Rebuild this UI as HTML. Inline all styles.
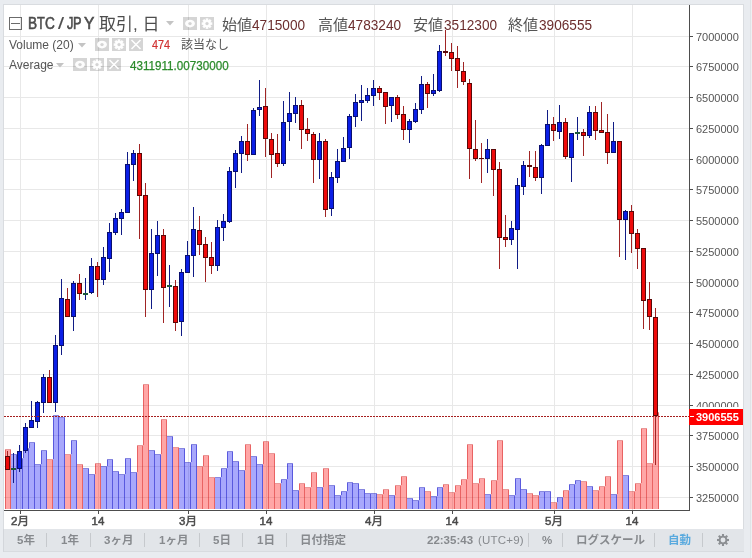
<!DOCTYPE html>
<html><head><meta charset="utf-8">
<style>
*{margin:0;padding:0;box-sizing:border-box}
html,body{width:752px;height:558px;overflow:hidden;background:#e9ecf0}
body{position:relative;font-family:"Liberation Sans","Noto Sans CJK JP",sans-serif}
#panel{position:absolute;left:3px;top:4px;width:741px;height:526px;background:#fff;border:1px solid #d9dce0;border-bottom:none}
#chart{position:absolute;left:0;top:0}
.pl{position:absolute;left:696px;height:14px;line-height:14px;font-size:11px;color:#555;white-space:nowrap}
.dl{position:absolute;top:514px;width:60px;text-align:center;font-size:11.5px;color:#4a4a4a;line-height:14px;-webkit-text-stroke:0.5px #4a4a4a}
#lp{position:absolute;left:690px;top:409px;width:53px;height:16px;line-height:16px;color:#fff;font-size:11px;font-weight:bold;padding-left:6px}
.t{position:absolute;white-space:nowrap}
svg{display:block}
#chart{position:absolute;left:0;top:0}
#toolbar{position:absolute;left:3px;top:529px;width:741px;height:23px;background:#e2e5e9;box-shadow:inset 1px 0 #d3d6db,inset 0 -1px #d8dbdf}
.tb{position:absolute;top:0;height:22px;line-height:22px;font-size:11.5px;font-weight:bold;color:#878a8e;white-space:nowrap}
.sep{position:absolute;top:4px;width:1px;height:14px;background:#c6c9cd}
.ic{position:absolute;width:14px;height:13px}
.ti{top:14.2px;font-size:16px;line-height:20px;color:#4d4d4d;-webkit-text-stroke:0.6px #4d4d4d;transform:scaleX(0.85);transform-origin:0 0}
.lab{top:15.6px;font-size:15px;line-height:18px;color:#555}
.val{top:15.6px;font-size:15.5px;line-height:18px;color:#6c2e2e;transform:scaleX(0.88);transform-origin:0 0}
</style></head><body>
<div id="panel"></div>
<div style="position:absolute;left:750px;top:0;width:1px;height:558px;background:#e0e3e6"></div><div style="position:absolute;left:751px;top:0;width:1px;height:558px;background:#eef0f2"></div>
<svg id="chart" width="752" height="558" viewBox="0 0 752 558" shape-rendering="crispEdges">
<rect x="4" y="36" width="685" height="1" fill="#e8e8e8"/>
<rect x="4" y="66" width="685" height="1" fill="#e8e8e8"/>
<rect x="4" y="97" width="685" height="1" fill="#e8e8e8"/>
<rect x="4" y="128" width="685" height="1" fill="#e8e8e8"/>
<rect x="4" y="159" width="685" height="1" fill="#e8e8e8"/>
<rect x="4" y="189" width="685" height="1" fill="#e8e8e8"/>
<rect x="4" y="220" width="685" height="1" fill="#e8e8e8"/>
<rect x="4" y="251" width="685" height="1" fill="#e8e8e8"/>
<rect x="4" y="282" width="685" height="1" fill="#e8e8e8"/>
<rect x="4" y="312" width="685" height="1" fill="#e8e8e8"/>
<rect x="4" y="343" width="685" height="1" fill="#e8e8e8"/>
<rect x="4" y="374" width="685" height="1" fill="#e8e8e8"/>
<rect x="4" y="405" width="685" height="1" fill="#e8e8e8"/>
<rect x="4" y="435" width="685" height="1" fill="#e8e8e8"/>
<rect x="4" y="466" width="685" height="1" fill="#e8e8e8"/>
<rect x="4" y="497" width="685" height="1" fill="#e8e8e8"/>
<rect x="20" y="5" width="1" height="505" fill="#e8e8e8"/>
<rect x="98" y="5" width="1" height="505" fill="#e8e8e8"/>
<rect x="188" y="5" width="1" height="505" fill="#e8e8e8"/>
<rect x="266" y="5" width="1" height="505" fill="#e8e8e8"/>
<rect x="374" y="5" width="1" height="505" fill="#e8e8e8"/>
<rect x="452" y="5" width="1" height="505" fill="#e8e8e8"/>
<rect x="554" y="5" width="1" height="505" fill="#e8e8e8"/>
<rect x="632" y="5" width="1" height="505" fill="#e8e8e8"/>
<rect x="5" y="450" width="6" height="59" fill="rgba(255,0,0,0.35)"/>
<rect x="5" y="449" width="6" height="1" fill="rgba(200,0,0,0.4)"/>
<rect x="10" y="450" width="1" height="59" fill="rgba(200,0,0,0.4)"/>
<rect x="5" y="450" width="1" height="59" fill="rgba(200,0,0,0.4)"/>
<rect x="11" y="455" width="6" height="54" fill="rgba(0,0,245,0.34)"/>
<rect x="11" y="454" width="6" height="1" fill="rgba(0,0,190,0.47)"/>
<rect x="16" y="455" width="1" height="54" fill="rgba(0,0,190,0.47)"/>
<rect x="17" y="459" width="6" height="50" fill="rgba(0,0,245,0.34)"/>
<rect x="17" y="458" width="6" height="1" fill="rgba(0,0,190,0.47)"/>
<rect x="22" y="459" width="1" height="50" fill="rgba(0,0,190,0.47)"/>
<rect x="23" y="449" width="6" height="60" fill="rgba(0,0,245,0.34)"/>
<rect x="23" y="448" width="6" height="1" fill="rgba(0,0,190,0.47)"/>
<rect x="28" y="449" width="1" height="60" fill="rgba(0,0,190,0.47)"/>
<rect x="23" y="449" width="1" height="9" fill="rgba(0,0,190,0.47)"/>
<rect x="29" y="443" width="6" height="66" fill="rgba(0,0,245,0.34)"/>
<rect x="29" y="442" width="6" height="1" fill="rgba(0,0,190,0.47)"/>
<rect x="34" y="443" width="1" height="66" fill="rgba(0,0,190,0.47)"/>
<rect x="29" y="443" width="1" height="5" fill="rgba(0,0,190,0.47)"/>
<rect x="35" y="465" width="6" height="44" fill="rgba(0,0,245,0.34)"/>
<rect x="35" y="464" width="6" height="1" fill="rgba(0,0,190,0.47)"/>
<rect x="40" y="465" width="1" height="44" fill="rgba(0,0,190,0.47)"/>
<rect x="41" y="451" width="6" height="58" fill="rgba(0,0,245,0.34)"/>
<rect x="41" y="450" width="6" height="1" fill="rgba(0,0,190,0.47)"/>
<rect x="46" y="451" width="1" height="58" fill="rgba(0,0,190,0.47)"/>
<rect x="41" y="451" width="1" height="13" fill="rgba(0,0,190,0.47)"/>
<rect x="47" y="460" width="6" height="49" fill="rgba(255,0,0,0.35)"/>
<rect x="47" y="459" width="6" height="1" fill="rgba(200,0,0,0.4)"/>
<rect x="52" y="460" width="1" height="49" fill="rgba(200,0,0,0.4)"/>
<rect x="53" y="416" width="6" height="93" fill="rgba(0,0,245,0.34)"/>
<rect x="53" y="415" width="6" height="1" fill="rgba(0,0,190,0.47)"/>
<rect x="58" y="416" width="1" height="93" fill="rgba(0,0,190,0.47)"/>
<rect x="53" y="416" width="1" height="43" fill="rgba(0,0,190,0.47)"/>
<rect x="59" y="418" width="6" height="91" fill="rgba(0,0,245,0.34)"/>
<rect x="59" y="417" width="6" height="1" fill="rgba(0,0,190,0.47)"/>
<rect x="64" y="418" width="1" height="91" fill="rgba(0,0,190,0.47)"/>
<rect x="65" y="455" width="6" height="54" fill="rgba(255,0,0,0.35)"/>
<rect x="65" y="454" width="6" height="1" fill="rgba(200,0,0,0.4)"/>
<rect x="70" y="455" width="1" height="54" fill="rgba(200,0,0,0.4)"/>
<rect x="71" y="441" width="6" height="68" fill="rgba(0,0,245,0.34)"/>
<rect x="71" y="440" width="6" height="1" fill="rgba(0,0,190,0.47)"/>
<rect x="76" y="441" width="1" height="68" fill="rgba(0,0,190,0.47)"/>
<rect x="71" y="441" width="1" height="13" fill="rgba(0,0,190,0.47)"/>
<rect x="77" y="465" width="6" height="44" fill="rgba(255,0,0,0.35)"/>
<rect x="77" y="464" width="6" height="1" fill="rgba(200,0,0,0.4)"/>
<rect x="82" y="465" width="1" height="44" fill="rgba(200,0,0,0.4)"/>
<rect x="83" y="469" width="6" height="40" fill="rgba(0,0,245,0.34)"/>
<rect x="83" y="468" width="6" height="1" fill="rgba(0,0,190,0.47)"/>
<rect x="88" y="469" width="1" height="40" fill="rgba(0,0,190,0.47)"/>
<rect x="89" y="475" width="6" height="34" fill="rgba(0,0,245,0.34)"/>
<rect x="89" y="474" width="6" height="1" fill="rgba(0,0,190,0.47)"/>
<rect x="94" y="475" width="1" height="34" fill="rgba(0,0,190,0.47)"/>
<rect x="95" y="464" width="6" height="45" fill="rgba(255,0,0,0.35)"/>
<rect x="95" y="463" width="6" height="1" fill="rgba(200,0,0,0.4)"/>
<rect x="100" y="464" width="1" height="45" fill="rgba(200,0,0,0.4)"/>
<rect x="95" y="464" width="1" height="10" fill="rgba(200,0,0,0.4)"/>
<rect x="101" y="467" width="6" height="42" fill="rgba(0,0,245,0.34)"/>
<rect x="101" y="466" width="6" height="1" fill="rgba(0,0,190,0.47)"/>
<rect x="106" y="467" width="1" height="42" fill="rgba(0,0,190,0.47)"/>
<rect x="107" y="460" width="6" height="49" fill="rgba(0,0,245,0.34)"/>
<rect x="107" y="459" width="6" height="1" fill="rgba(0,0,190,0.47)"/>
<rect x="112" y="460" width="1" height="49" fill="rgba(0,0,190,0.47)"/>
<rect x="107" y="460" width="1" height="6" fill="rgba(0,0,190,0.47)"/>
<rect x="113" y="472" width="6" height="37" fill="rgba(0,0,245,0.34)"/>
<rect x="113" y="471" width="6" height="1" fill="rgba(0,0,190,0.47)"/>
<rect x="118" y="472" width="1" height="37" fill="rgba(0,0,190,0.47)"/>
<rect x="119" y="475" width="6" height="34" fill="rgba(0,0,245,0.34)"/>
<rect x="119" y="474" width="6" height="1" fill="rgba(0,0,190,0.47)"/>
<rect x="124" y="475" width="1" height="34" fill="rgba(0,0,190,0.47)"/>
<rect x="125" y="459" width="6" height="50" fill="rgba(0,0,245,0.34)"/>
<rect x="125" y="458" width="6" height="1" fill="rgba(0,0,190,0.47)"/>
<rect x="130" y="459" width="1" height="50" fill="rgba(0,0,190,0.47)"/>
<rect x="125" y="459" width="1" height="15" fill="rgba(0,0,190,0.47)"/>
<rect x="131" y="473" width="6" height="36" fill="rgba(0,0,245,0.34)"/>
<rect x="131" y="472" width="6" height="1" fill="rgba(0,0,190,0.47)"/>
<rect x="136" y="473" width="1" height="36" fill="rgba(0,0,190,0.47)"/>
<rect x="137" y="446" width="6" height="63" fill="rgba(255,0,0,0.35)"/>
<rect x="137" y="445" width="6" height="1" fill="rgba(200,0,0,0.4)"/>
<rect x="142" y="446" width="1" height="63" fill="rgba(200,0,0,0.4)"/>
<rect x="137" y="446" width="1" height="26" fill="rgba(200,0,0,0.4)"/>
<rect x="143" y="385" width="6" height="124" fill="rgba(255,0,0,0.35)"/>
<rect x="143" y="384" width="6" height="1" fill="rgba(200,0,0,0.4)"/>
<rect x="148" y="385" width="1" height="124" fill="rgba(200,0,0,0.4)"/>
<rect x="143" y="385" width="1" height="60" fill="rgba(200,0,0,0.4)"/>
<rect x="149" y="451" width="6" height="58" fill="rgba(0,0,245,0.34)"/>
<rect x="149" y="450" width="6" height="1" fill="rgba(0,0,190,0.47)"/>
<rect x="154" y="451" width="1" height="58" fill="rgba(0,0,190,0.47)"/>
<rect x="155" y="455" width="6" height="54" fill="rgba(0,0,245,0.34)"/>
<rect x="155" y="454" width="6" height="1" fill="rgba(0,0,190,0.47)"/>
<rect x="160" y="455" width="1" height="54" fill="rgba(0,0,190,0.47)"/>
<rect x="161" y="420" width="6" height="89" fill="rgba(255,0,0,0.35)"/>
<rect x="161" y="419" width="6" height="1" fill="rgba(200,0,0,0.4)"/>
<rect x="166" y="420" width="1" height="89" fill="rgba(200,0,0,0.4)"/>
<rect x="161" y="420" width="1" height="34" fill="rgba(200,0,0,0.4)"/>
<rect x="167" y="437" width="6" height="72" fill="rgba(0,0,245,0.34)"/>
<rect x="167" y="436" width="6" height="1" fill="rgba(0,0,190,0.47)"/>
<rect x="172" y="437" width="1" height="72" fill="rgba(0,0,190,0.47)"/>
<rect x="173" y="448" width="6" height="61" fill="rgba(255,0,0,0.35)"/>
<rect x="173" y="447" width="6" height="1" fill="rgba(200,0,0,0.4)"/>
<rect x="178" y="448" width="1" height="61" fill="rgba(200,0,0,0.4)"/>
<rect x="179" y="449" width="6" height="60" fill="rgba(0,0,245,0.34)"/>
<rect x="179" y="448" width="6" height="1" fill="rgba(0,0,190,0.47)"/>
<rect x="184" y="449" width="1" height="60" fill="rgba(0,0,190,0.47)"/>
<rect x="185" y="463" width="6" height="46" fill="rgba(0,0,245,0.34)"/>
<rect x="185" y="462" width="6" height="1" fill="rgba(0,0,190,0.47)"/>
<rect x="190" y="463" width="1" height="46" fill="rgba(0,0,190,0.47)"/>
<rect x="191" y="445" width="6" height="64" fill="rgba(0,0,245,0.34)"/>
<rect x="191" y="444" width="6" height="1" fill="rgba(0,0,190,0.47)"/>
<rect x="196" y="445" width="1" height="64" fill="rgba(0,0,190,0.47)"/>
<rect x="191" y="445" width="1" height="17" fill="rgba(0,0,190,0.47)"/>
<rect x="197" y="467" width="6" height="42" fill="rgba(255,0,0,0.35)"/>
<rect x="197" y="466" width="6" height="1" fill="rgba(200,0,0,0.4)"/>
<rect x="202" y="467" width="1" height="42" fill="rgba(200,0,0,0.4)"/>
<rect x="203" y="456" width="6" height="53" fill="rgba(255,0,0,0.35)"/>
<rect x="203" y="455" width="6" height="1" fill="rgba(200,0,0,0.4)"/>
<rect x="208" y="456" width="1" height="53" fill="rgba(200,0,0,0.4)"/>
<rect x="203" y="456" width="1" height="10" fill="rgba(200,0,0,0.4)"/>
<rect x="209" y="478" width="6" height="31" fill="rgba(255,0,0,0.35)"/>
<rect x="209" y="477" width="6" height="1" fill="rgba(200,0,0,0.4)"/>
<rect x="214" y="478" width="1" height="31" fill="rgba(200,0,0,0.4)"/>
<rect x="215" y="478" width="6" height="31" fill="rgba(0,0,245,0.34)"/>
<rect x="215" y="477" width="6" height="1" fill="rgba(0,0,190,0.47)"/>
<rect x="220" y="478" width="1" height="31" fill="rgba(0,0,190,0.47)"/>
<rect x="221" y="469" width="6" height="40" fill="rgba(0,0,245,0.34)"/>
<rect x="221" y="468" width="6" height="1" fill="rgba(0,0,190,0.47)"/>
<rect x="226" y="469" width="1" height="40" fill="rgba(0,0,190,0.47)"/>
<rect x="221" y="469" width="1" height="8" fill="rgba(0,0,190,0.47)"/>
<rect x="227" y="452" width="6" height="57" fill="rgba(0,0,245,0.34)"/>
<rect x="227" y="451" width="6" height="1" fill="rgba(0,0,190,0.47)"/>
<rect x="232" y="452" width="1" height="57" fill="rgba(0,0,190,0.47)"/>
<rect x="227" y="452" width="1" height="16" fill="rgba(0,0,190,0.47)"/>
<rect x="233" y="462" width="6" height="47" fill="rgba(0,0,245,0.34)"/>
<rect x="233" y="461" width="6" height="1" fill="rgba(0,0,190,0.47)"/>
<rect x="238" y="462" width="1" height="47" fill="rgba(0,0,190,0.47)"/>
<rect x="239" y="471" width="6" height="38" fill="rgba(0,0,245,0.34)"/>
<rect x="239" y="470" width="6" height="1" fill="rgba(0,0,190,0.47)"/>
<rect x="244" y="471" width="1" height="38" fill="rgba(0,0,190,0.47)"/>
<rect x="245" y="445" width="6" height="64" fill="rgba(255,0,0,0.35)"/>
<rect x="245" y="444" width="6" height="1" fill="rgba(200,0,0,0.4)"/>
<rect x="250" y="445" width="1" height="64" fill="rgba(200,0,0,0.4)"/>
<rect x="245" y="445" width="1" height="25" fill="rgba(200,0,0,0.4)"/>
<rect x="251" y="457" width="6" height="52" fill="rgba(0,0,245,0.34)"/>
<rect x="251" y="456" width="6" height="1" fill="rgba(0,0,190,0.47)"/>
<rect x="256" y="457" width="1" height="52" fill="rgba(0,0,190,0.47)"/>
<rect x="257" y="465" width="6" height="44" fill="rgba(0,0,245,0.34)"/>
<rect x="257" y="464" width="6" height="1" fill="rgba(0,0,190,0.47)"/>
<rect x="262" y="465" width="1" height="44" fill="rgba(0,0,190,0.47)"/>
<rect x="263" y="442" width="6" height="67" fill="rgba(255,0,0,0.35)"/>
<rect x="263" y="441" width="6" height="1" fill="rgba(200,0,0,0.4)"/>
<rect x="268" y="442" width="1" height="67" fill="rgba(200,0,0,0.4)"/>
<rect x="263" y="442" width="1" height="22" fill="rgba(200,0,0,0.4)"/>
<rect x="269" y="454" width="6" height="55" fill="rgba(255,0,0,0.35)"/>
<rect x="269" y="453" width="6" height="1" fill="rgba(200,0,0,0.4)"/>
<rect x="274" y="454" width="1" height="55" fill="rgba(200,0,0,0.4)"/>
<rect x="275" y="484" width="6" height="25" fill="rgba(255,0,0,0.35)"/>
<rect x="275" y="483" width="6" height="1" fill="rgba(200,0,0,0.4)"/>
<rect x="280" y="484" width="1" height="25" fill="rgba(200,0,0,0.4)"/>
<rect x="281" y="480" width="6" height="29" fill="rgba(0,0,245,0.34)"/>
<rect x="281" y="479" width="6" height="1" fill="rgba(0,0,190,0.47)"/>
<rect x="286" y="480" width="1" height="29" fill="rgba(0,0,190,0.47)"/>
<rect x="281" y="480" width="1" height="3" fill="rgba(0,0,190,0.47)"/>
<rect x="287" y="464" width="6" height="45" fill="rgba(0,0,245,0.34)"/>
<rect x="287" y="463" width="6" height="1" fill="rgba(0,0,190,0.47)"/>
<rect x="292" y="464" width="1" height="45" fill="rgba(0,0,190,0.47)"/>
<rect x="287" y="464" width="1" height="15" fill="rgba(0,0,190,0.47)"/>
<rect x="293" y="491" width="6" height="18" fill="rgba(0,0,245,0.34)"/>
<rect x="293" y="490" width="6" height="1" fill="rgba(0,0,190,0.47)"/>
<rect x="298" y="491" width="1" height="18" fill="rgba(0,0,190,0.47)"/>
<rect x="299" y="484" width="6" height="25" fill="rgba(255,0,0,0.35)"/>
<rect x="299" y="483" width="6" height="1" fill="rgba(200,0,0,0.4)"/>
<rect x="304" y="484" width="1" height="25" fill="rgba(200,0,0,0.4)"/>
<rect x="299" y="484" width="1" height="6" fill="rgba(200,0,0,0.4)"/>
<rect x="305" y="488" width="6" height="21" fill="rgba(255,0,0,0.35)"/>
<rect x="305" y="487" width="6" height="1" fill="rgba(200,0,0,0.4)"/>
<rect x="310" y="488" width="1" height="21" fill="rgba(200,0,0,0.4)"/>
<rect x="311" y="473" width="6" height="36" fill="rgba(255,0,0,0.35)"/>
<rect x="311" y="472" width="6" height="1" fill="rgba(200,0,0,0.4)"/>
<rect x="316" y="473" width="1" height="36" fill="rgba(200,0,0,0.4)"/>
<rect x="311" y="473" width="1" height="14" fill="rgba(200,0,0,0.4)"/>
<rect x="317" y="488" width="6" height="21" fill="rgba(0,0,245,0.34)"/>
<rect x="317" y="487" width="6" height="1" fill="rgba(0,0,190,0.47)"/>
<rect x="322" y="488" width="1" height="21" fill="rgba(0,0,190,0.47)"/>
<rect x="323" y="469" width="6" height="40" fill="rgba(255,0,0,0.35)"/>
<rect x="323" y="468" width="6" height="1" fill="rgba(200,0,0,0.4)"/>
<rect x="328" y="469" width="1" height="40" fill="rgba(200,0,0,0.4)"/>
<rect x="323" y="469" width="1" height="18" fill="rgba(200,0,0,0.4)"/>
<rect x="329" y="486" width="6" height="23" fill="rgba(0,0,245,0.34)"/>
<rect x="329" y="485" width="6" height="1" fill="rgba(0,0,190,0.47)"/>
<rect x="334" y="486" width="1" height="23" fill="rgba(0,0,190,0.47)"/>
<rect x="335" y="496" width="6" height="13" fill="rgba(0,0,245,0.34)"/>
<rect x="335" y="495" width="6" height="1" fill="rgba(0,0,190,0.47)"/>
<rect x="340" y="496" width="1" height="13" fill="rgba(0,0,190,0.47)"/>
<rect x="341" y="492" width="6" height="17" fill="rgba(0,0,245,0.34)"/>
<rect x="341" y="491" width="6" height="1" fill="rgba(0,0,190,0.47)"/>
<rect x="346" y="492" width="1" height="17" fill="rgba(0,0,190,0.47)"/>
<rect x="341" y="492" width="1" height="3" fill="rgba(0,0,190,0.47)"/>
<rect x="347" y="483" width="6" height="26" fill="rgba(0,0,245,0.34)"/>
<rect x="347" y="482" width="6" height="1" fill="rgba(0,0,190,0.47)"/>
<rect x="352" y="483" width="1" height="26" fill="rgba(0,0,190,0.47)"/>
<rect x="347" y="483" width="1" height="8" fill="rgba(0,0,190,0.47)"/>
<rect x="353" y="484" width="6" height="25" fill="rgba(0,0,245,0.34)"/>
<rect x="353" y="483" width="6" height="1" fill="rgba(0,0,190,0.47)"/>
<rect x="358" y="484" width="1" height="25" fill="rgba(0,0,190,0.47)"/>
<rect x="359" y="490" width="6" height="19" fill="rgba(0,0,245,0.34)"/>
<rect x="359" y="489" width="6" height="1" fill="rgba(0,0,190,0.47)"/>
<rect x="364" y="490" width="1" height="19" fill="rgba(0,0,190,0.47)"/>
<rect x="365" y="494" width="6" height="15" fill="rgba(0,0,245,0.34)"/>
<rect x="365" y="493" width="6" height="1" fill="rgba(0,0,190,0.47)"/>
<rect x="370" y="494" width="1" height="15" fill="rgba(0,0,190,0.47)"/>
<rect x="371" y="494" width="6" height="15" fill="rgba(0,0,245,0.34)"/>
<rect x="371" y="493" width="6" height="1" fill="rgba(0,0,190,0.47)"/>
<rect x="376" y="494" width="1" height="15" fill="rgba(0,0,190,0.47)"/>
<rect x="377" y="495" width="6" height="14" fill="rgba(255,0,0,0.35)"/>
<rect x="377" y="494" width="6" height="1" fill="rgba(200,0,0,0.4)"/>
<rect x="382" y="495" width="1" height="14" fill="rgba(200,0,0,0.4)"/>
<rect x="383" y="490" width="6" height="19" fill="rgba(255,0,0,0.35)"/>
<rect x="383" y="489" width="6" height="1" fill="rgba(200,0,0,0.4)"/>
<rect x="388" y="490" width="1" height="19" fill="rgba(200,0,0,0.4)"/>
<rect x="383" y="490" width="1" height="4" fill="rgba(200,0,0,0.4)"/>
<rect x="389" y="496" width="6" height="13" fill="rgba(0,0,245,0.34)"/>
<rect x="389" y="495" width="6" height="1" fill="rgba(0,0,190,0.47)"/>
<rect x="394" y="496" width="1" height="13" fill="rgba(0,0,190,0.47)"/>
<rect x="395" y="486" width="6" height="23" fill="rgba(255,0,0,0.35)"/>
<rect x="395" y="485" width="6" height="1" fill="rgba(200,0,0,0.4)"/>
<rect x="400" y="486" width="1" height="23" fill="rgba(200,0,0,0.4)"/>
<rect x="395" y="486" width="1" height="9" fill="rgba(200,0,0,0.4)"/>
<rect x="401" y="477" width="6" height="32" fill="rgba(255,0,0,0.35)"/>
<rect x="401" y="476" width="6" height="1" fill="rgba(200,0,0,0.4)"/>
<rect x="406" y="477" width="1" height="32" fill="rgba(200,0,0,0.4)"/>
<rect x="401" y="477" width="1" height="8" fill="rgba(200,0,0,0.4)"/>
<rect x="407" y="499" width="6" height="10" fill="rgba(0,0,245,0.34)"/>
<rect x="407" y="498" width="6" height="1" fill="rgba(0,0,190,0.47)"/>
<rect x="412" y="499" width="1" height="10" fill="rgba(0,0,190,0.47)"/>
<rect x="413" y="501" width="6" height="8" fill="rgba(0,0,245,0.34)"/>
<rect x="413" y="500" width="6" height="1" fill="rgba(0,0,190,0.47)"/>
<rect x="418" y="501" width="1" height="8" fill="rgba(0,0,190,0.47)"/>
<rect x="419" y="488" width="6" height="21" fill="rgba(0,0,245,0.34)"/>
<rect x="419" y="487" width="6" height="1" fill="rgba(0,0,190,0.47)"/>
<rect x="424" y="488" width="1" height="21" fill="rgba(0,0,190,0.47)"/>
<rect x="419" y="488" width="1" height="12" fill="rgba(0,0,190,0.47)"/>
<rect x="425" y="492" width="6" height="17" fill="rgba(255,0,0,0.35)"/>
<rect x="425" y="491" width="6" height="1" fill="rgba(200,0,0,0.4)"/>
<rect x="430" y="492" width="1" height="17" fill="rgba(200,0,0,0.4)"/>
<rect x="431" y="497" width="6" height="12" fill="rgba(0,0,245,0.34)"/>
<rect x="431" y="496" width="6" height="1" fill="rgba(0,0,190,0.47)"/>
<rect x="436" y="497" width="1" height="12" fill="rgba(0,0,190,0.47)"/>
<rect x="437" y="488" width="6" height="21" fill="rgba(0,0,245,0.34)"/>
<rect x="437" y="487" width="6" height="1" fill="rgba(0,0,190,0.47)"/>
<rect x="442" y="488" width="1" height="21" fill="rgba(0,0,190,0.47)"/>
<rect x="437" y="488" width="1" height="8" fill="rgba(0,0,190,0.47)"/>
<rect x="443" y="485" width="6" height="24" fill="rgba(255,0,0,0.35)"/>
<rect x="443" y="484" width="6" height="1" fill="rgba(200,0,0,0.4)"/>
<rect x="448" y="485" width="1" height="24" fill="rgba(200,0,0,0.4)"/>
<rect x="443" y="485" width="1" height="2" fill="rgba(200,0,0,0.4)"/>
<rect x="449" y="493" width="6" height="16" fill="rgba(255,0,0,0.35)"/>
<rect x="449" y="492" width="6" height="1" fill="rgba(200,0,0,0.4)"/>
<rect x="454" y="493" width="1" height="16" fill="rgba(200,0,0,0.4)"/>
<rect x="455" y="486" width="6" height="23" fill="rgba(255,0,0,0.35)"/>
<rect x="455" y="485" width="6" height="1" fill="rgba(200,0,0,0.4)"/>
<rect x="460" y="486" width="1" height="23" fill="rgba(200,0,0,0.4)"/>
<rect x="455" y="486" width="1" height="6" fill="rgba(200,0,0,0.4)"/>
<rect x="461" y="480" width="6" height="29" fill="rgba(255,0,0,0.35)"/>
<rect x="461" y="479" width="6" height="1" fill="rgba(200,0,0,0.4)"/>
<rect x="466" y="480" width="1" height="29" fill="rgba(200,0,0,0.4)"/>
<rect x="461" y="480" width="1" height="5" fill="rgba(200,0,0,0.4)"/>
<rect x="467" y="445" width="6" height="64" fill="rgba(255,0,0,0.35)"/>
<rect x="467" y="444" width="6" height="1" fill="rgba(200,0,0,0.4)"/>
<rect x="472" y="445" width="1" height="64" fill="rgba(200,0,0,0.4)"/>
<rect x="467" y="445" width="1" height="34" fill="rgba(200,0,0,0.4)"/>
<rect x="473" y="484" width="6" height="25" fill="rgba(255,0,0,0.35)"/>
<rect x="473" y="483" width="6" height="1" fill="rgba(200,0,0,0.4)"/>
<rect x="478" y="484" width="1" height="25" fill="rgba(200,0,0,0.4)"/>
<rect x="479" y="479" width="6" height="30" fill="rgba(255,0,0,0.35)"/>
<rect x="479" y="478" width="6" height="1" fill="rgba(200,0,0,0.4)"/>
<rect x="484" y="479" width="1" height="30" fill="rgba(200,0,0,0.4)"/>
<rect x="479" y="479" width="1" height="4" fill="rgba(200,0,0,0.4)"/>
<rect x="485" y="495" width="6" height="14" fill="rgba(0,0,245,0.34)"/>
<rect x="485" y="494" width="6" height="1" fill="rgba(0,0,190,0.47)"/>
<rect x="490" y="495" width="1" height="14" fill="rgba(0,0,190,0.47)"/>
<rect x="491" y="481" width="6" height="28" fill="rgba(255,0,0,0.35)"/>
<rect x="491" y="480" width="6" height="1" fill="rgba(200,0,0,0.4)"/>
<rect x="496" y="481" width="1" height="28" fill="rgba(200,0,0,0.4)"/>
<rect x="491" y="481" width="1" height="13" fill="rgba(200,0,0,0.4)"/>
<rect x="497" y="441" width="6" height="68" fill="rgba(255,0,0,0.35)"/>
<rect x="497" y="440" width="6" height="1" fill="rgba(200,0,0,0.4)"/>
<rect x="502" y="441" width="1" height="68" fill="rgba(200,0,0,0.4)"/>
<rect x="497" y="441" width="1" height="39" fill="rgba(200,0,0,0.4)"/>
<rect x="503" y="490" width="6" height="19" fill="rgba(255,0,0,0.35)"/>
<rect x="503" y="489" width="6" height="1" fill="rgba(200,0,0,0.4)"/>
<rect x="508" y="490" width="1" height="19" fill="rgba(200,0,0,0.4)"/>
<rect x="509" y="496" width="6" height="13" fill="rgba(0,0,245,0.34)"/>
<rect x="509" y="495" width="6" height="1" fill="rgba(0,0,190,0.47)"/>
<rect x="514" y="496" width="1" height="13" fill="rgba(0,0,190,0.47)"/>
<rect x="515" y="479" width="6" height="30" fill="rgba(0,0,245,0.34)"/>
<rect x="515" y="478" width="6" height="1" fill="rgba(0,0,190,0.47)"/>
<rect x="520" y="479" width="1" height="30" fill="rgba(0,0,190,0.47)"/>
<rect x="515" y="479" width="1" height="16" fill="rgba(0,0,190,0.47)"/>
<rect x="521" y="490" width="6" height="19" fill="rgba(0,0,245,0.34)"/>
<rect x="521" y="489" width="6" height="1" fill="rgba(0,0,190,0.47)"/>
<rect x="526" y="490" width="1" height="19" fill="rgba(0,0,190,0.47)"/>
<rect x="527" y="494" width="6" height="15" fill="rgba(255,0,0,0.35)"/>
<rect x="527" y="493" width="6" height="1" fill="rgba(200,0,0,0.4)"/>
<rect x="532" y="494" width="1" height="15" fill="rgba(200,0,0,0.4)"/>
<rect x="533" y="496" width="6" height="13" fill="rgba(255,0,0,0.35)"/>
<rect x="533" y="495" width="6" height="1" fill="rgba(200,0,0,0.4)"/>
<rect x="538" y="496" width="1" height="13" fill="rgba(200,0,0,0.4)"/>
<rect x="539" y="492" width="6" height="17" fill="rgba(0,0,245,0.34)"/>
<rect x="539" y="491" width="6" height="1" fill="rgba(0,0,190,0.47)"/>
<rect x="544" y="492" width="1" height="17" fill="rgba(0,0,190,0.47)"/>
<rect x="539" y="492" width="1" height="3" fill="rgba(0,0,190,0.47)"/>
<rect x="545" y="492" width="6" height="17" fill="rgba(0,0,245,0.34)"/>
<rect x="545" y="491" width="6" height="1" fill="rgba(0,0,190,0.47)"/>
<rect x="550" y="492" width="1" height="17" fill="rgba(0,0,190,0.47)"/>
<rect x="551" y="503" width="6" height="6" fill="rgba(255,0,0,0.35)"/>
<rect x="551" y="502" width="6" height="1" fill="rgba(200,0,0,0.4)"/>
<rect x="556" y="503" width="1" height="6" fill="rgba(200,0,0,0.4)"/>
<rect x="557" y="498" width="6" height="11" fill="rgba(0,0,245,0.34)"/>
<rect x="557" y="497" width="6" height="1" fill="rgba(0,0,190,0.47)"/>
<rect x="562" y="498" width="1" height="11" fill="rgba(0,0,190,0.47)"/>
<rect x="557" y="498" width="1" height="4" fill="rgba(0,0,190,0.47)"/>
<rect x="563" y="491" width="6" height="18" fill="rgba(255,0,0,0.35)"/>
<rect x="563" y="490" width="6" height="1" fill="rgba(200,0,0,0.4)"/>
<rect x="568" y="491" width="1" height="18" fill="rgba(200,0,0,0.4)"/>
<rect x="563" y="491" width="1" height="6" fill="rgba(200,0,0,0.4)"/>
<rect x="569" y="485" width="6" height="24" fill="rgba(0,0,245,0.34)"/>
<rect x="569" y="484" width="6" height="1" fill="rgba(0,0,190,0.47)"/>
<rect x="574" y="485" width="1" height="24" fill="rgba(0,0,190,0.47)"/>
<rect x="569" y="485" width="1" height="5" fill="rgba(0,0,190,0.47)"/>
<rect x="575" y="481" width="6" height="28" fill="rgba(0,0,245,0.34)"/>
<rect x="575" y="480" width="6" height="1" fill="rgba(0,0,190,0.47)"/>
<rect x="580" y="481" width="1" height="28" fill="rgba(0,0,190,0.47)"/>
<rect x="575" y="481" width="1" height="3" fill="rgba(0,0,190,0.47)"/>
<rect x="581" y="482" width="6" height="27" fill="rgba(255,0,0,0.35)"/>
<rect x="581" y="481" width="6" height="1" fill="rgba(200,0,0,0.4)"/>
<rect x="586" y="482" width="1" height="27" fill="rgba(200,0,0,0.4)"/>
<rect x="587" y="487" width="6" height="22" fill="rgba(0,0,245,0.34)"/>
<rect x="587" y="486" width="6" height="1" fill="rgba(0,0,190,0.47)"/>
<rect x="592" y="487" width="1" height="22" fill="rgba(0,0,190,0.47)"/>
<rect x="593" y="491" width="6" height="18" fill="rgba(255,0,0,0.35)"/>
<rect x="593" y="490" width="6" height="1" fill="rgba(200,0,0,0.4)"/>
<rect x="598" y="491" width="1" height="18" fill="rgba(200,0,0,0.4)"/>
<rect x="599" y="487" width="6" height="22" fill="rgba(255,0,0,0.35)"/>
<rect x="599" y="486" width="6" height="1" fill="rgba(200,0,0,0.4)"/>
<rect x="604" y="487" width="1" height="22" fill="rgba(200,0,0,0.4)"/>
<rect x="599" y="487" width="1" height="3" fill="rgba(200,0,0,0.4)"/>
<rect x="605" y="477" width="6" height="32" fill="rgba(255,0,0,0.35)"/>
<rect x="605" y="476" width="6" height="1" fill="rgba(200,0,0,0.4)"/>
<rect x="610" y="477" width="1" height="32" fill="rgba(200,0,0,0.4)"/>
<rect x="605" y="477" width="1" height="9" fill="rgba(200,0,0,0.4)"/>
<rect x="611" y="495" width="6" height="14" fill="rgba(0,0,245,0.34)"/>
<rect x="611" y="494" width="6" height="1" fill="rgba(0,0,190,0.47)"/>
<rect x="616" y="495" width="1" height="14" fill="rgba(0,0,190,0.47)"/>
<rect x="617" y="441" width="6" height="68" fill="rgba(255,0,0,0.35)"/>
<rect x="617" y="440" width="6" height="1" fill="rgba(200,0,0,0.4)"/>
<rect x="622" y="441" width="1" height="68" fill="rgba(200,0,0,0.4)"/>
<rect x="617" y="441" width="1" height="53" fill="rgba(200,0,0,0.4)"/>
<rect x="623" y="476" width="6" height="33" fill="rgba(0,0,245,0.34)"/>
<rect x="623" y="475" width="6" height="1" fill="rgba(0,0,190,0.47)"/>
<rect x="628" y="476" width="1" height="33" fill="rgba(0,0,190,0.47)"/>
<rect x="629" y="492" width="6" height="17" fill="rgba(255,0,0,0.35)"/>
<rect x="629" y="491" width="6" height="1" fill="rgba(200,0,0,0.4)"/>
<rect x="634" y="492" width="1" height="17" fill="rgba(200,0,0,0.4)"/>
<rect x="635" y="484" width="6" height="25" fill="rgba(255,0,0,0.35)"/>
<rect x="635" y="483" width="6" height="1" fill="rgba(200,0,0,0.4)"/>
<rect x="640" y="484" width="1" height="25" fill="rgba(200,0,0,0.4)"/>
<rect x="635" y="484" width="1" height="7" fill="rgba(200,0,0,0.4)"/>
<rect x="641" y="429" width="6" height="80" fill="rgba(255,0,0,0.35)"/>
<rect x="641" y="428" width="6" height="1" fill="rgba(200,0,0,0.4)"/>
<rect x="646" y="429" width="1" height="80" fill="rgba(200,0,0,0.4)"/>
<rect x="641" y="429" width="1" height="54" fill="rgba(200,0,0,0.4)"/>
<rect x="647" y="464" width="6" height="45" fill="rgba(255,0,0,0.35)"/>
<rect x="647" y="463" width="6" height="1" fill="rgba(200,0,0,0.4)"/>
<rect x="652" y="464" width="1" height="45" fill="rgba(200,0,0,0.4)"/>
<rect x="653" y="413" width="6" height="96" fill="rgba(255,0,0,0.35)"/>
<rect x="653" y="412" width="6" height="1" fill="rgba(200,0,0,0.4)"/>
<rect x="658" y="413" width="1" height="96" fill="rgba(200,0,0,0.4)"/>
<rect x="653" y="413" width="1" height="50" fill="rgba(200,0,0,0.4)"/>
<rect x="7" y="451" width="1" height="19" fill="#a02424"/>
<rect x="5" y="456" width="5" height="14" fill="#5a0808"/>
<rect x="6" y="457" width="3" height="12" fill="#ee0a0a"/>
<rect x="13" y="453" width="1" height="30" fill="#101c86"/>
<rect x="11" y="468" width="5" height="2" fill="#1d5a3c"/>
<rect x="19" y="445" width="1" height="27" fill="#101c86"/>
<rect x="17" y="451" width="5" height="18" fill="#0a0f6e"/>
<rect x="18" y="452" width="3" height="16" fill="#0a1ee6"/>
<rect x="25" y="423" width="1" height="30" fill="#101c86"/>
<rect x="23" y="427" width="5" height="24" fill="#0a0f6e"/>
<rect x="24" y="428" width="3" height="22" fill="#0a1ee6"/>
<rect x="31" y="401" width="1" height="27" fill="#101c86"/>
<rect x="29" y="420" width="5" height="8" fill="#0a0f6e"/>
<rect x="30" y="421" width="3" height="6" fill="#0a1ee6"/>
<rect x="37" y="401" width="1" height="27" fill="#101c86"/>
<rect x="35" y="402" width="5" height="20" fill="#0a0f6e"/>
<rect x="36" y="403" width="3" height="18" fill="#0a1ee6"/>
<rect x="43" y="374" width="1" height="39" fill="#101c86"/>
<rect x="41" y="377" width="5" height="26" fill="#0a0f6e"/>
<rect x="42" y="378" width="3" height="24" fill="#0a1ee6"/>
<rect x="49" y="370" width="1" height="33" fill="#a02424"/>
<rect x="47" y="377" width="5" height="26" fill="#5a0808"/>
<rect x="48" y="378" width="3" height="24" fill="#ee0a0a"/>
<rect x="55" y="335" width="1" height="77" fill="#101c86"/>
<rect x="53" y="345" width="5" height="58" fill="#0a0f6e"/>
<rect x="54" y="346" width="3" height="56" fill="#0a1ee6"/>
<rect x="61" y="279" width="1" height="76" fill="#101c86"/>
<rect x="59" y="298" width="5" height="48" fill="#0a0f6e"/>
<rect x="60" y="299" width="3" height="46" fill="#0a1ee6"/>
<rect x="67" y="288" width="1" height="29" fill="#a02424"/>
<rect x="65" y="299" width="5" height="18" fill="#5a0808"/>
<rect x="66" y="300" width="3" height="16" fill="#ee0a0a"/>
<rect x="73" y="281" width="1" height="50" fill="#101c86"/>
<rect x="71" y="283" width="5" height="34" fill="#0a0f6e"/>
<rect x="72" y="284" width="3" height="32" fill="#0a1ee6"/>
<rect x="79" y="274" width="1" height="26" fill="#a02424"/>
<rect x="77" y="283" width="5" height="11" fill="#5a0808"/>
<rect x="78" y="284" width="3" height="9" fill="#ee0a0a"/>
<rect x="85" y="278" width="1" height="22" fill="#101c86"/>
<rect x="83" y="293" width="5" height="2" fill="#1d5a3c"/>
<rect x="91" y="258" width="1" height="36" fill="#101c86"/>
<rect x="89" y="266" width="5" height="27" fill="#0a0f6e"/>
<rect x="90" y="267" width="3" height="25" fill="#0a1ee6"/>
<rect x="97" y="262" width="1" height="35" fill="#a02424"/>
<rect x="95" y="266" width="5" height="14" fill="#5a0808"/>
<rect x="96" y="267" width="3" height="12" fill="#ee0a0a"/>
<rect x="103" y="247" width="1" height="38" fill="#101c86"/>
<rect x="101" y="257" width="5" height="23" fill="#0a0f6e"/>
<rect x="102" y="258" width="3" height="21" fill="#0a1ee6"/>
<rect x="109" y="223" width="1" height="49" fill="#101c86"/>
<rect x="107" y="232" width="5" height="27" fill="#0a0f6e"/>
<rect x="108" y="233" width="3" height="25" fill="#0a1ee6"/>
<rect x="115" y="213" width="1" height="22" fill="#101c86"/>
<rect x="113" y="218" width="5" height="15" fill="#0a0f6e"/>
<rect x="114" y="219" width="3" height="13" fill="#0a1ee6"/>
<rect x="121" y="209" width="1" height="26" fill="#101c86"/>
<rect x="119" y="212" width="5" height="7" fill="#0a0f6e"/>
<rect x="120" y="213" width="3" height="5" fill="#0a1ee6"/>
<rect x="127" y="152" width="1" height="61" fill="#101c86"/>
<rect x="125" y="164" width="5" height="49" fill="#0a0f6e"/>
<rect x="126" y="165" width="3" height="47" fill="#0a1ee6"/>
<rect x="133" y="150" width="1" height="31" fill="#101c86"/>
<rect x="131" y="153" width="5" height="12" fill="#0a0f6e"/>
<rect x="132" y="154" width="3" height="10" fill="#0a1ee6"/>
<rect x="139" y="144" width="1" height="95" fill="#a02424"/>
<rect x="137" y="153" width="5" height="43" fill="#5a0808"/>
<rect x="138" y="154" width="3" height="41" fill="#ee0a0a"/>
<rect x="145" y="183" width="1" height="134" fill="#a02424"/>
<rect x="143" y="195" width="5" height="95" fill="#5a0808"/>
<rect x="144" y="196" width="3" height="93" fill="#ee0a0a"/>
<rect x="151" y="229" width="1" height="80" fill="#101c86"/>
<rect x="149" y="253" width="5" height="37" fill="#0a0f6e"/>
<rect x="150" y="254" width="3" height="35" fill="#0a1ee6"/>
<rect x="157" y="221" width="1" height="55" fill="#101c86"/>
<rect x="155" y="235" width="5" height="19" fill="#0a0f6e"/>
<rect x="156" y="236" width="3" height="17" fill="#0a1ee6"/>
<rect x="163" y="229" width="1" height="94" fill="#a02424"/>
<rect x="161" y="235" width="5" height="53" fill="#5a0808"/>
<rect x="162" y="236" width="3" height="51" fill="#ee0a0a"/>
<rect x="169" y="265" width="1" height="42" fill="#101c86"/>
<rect x="167" y="285" width="5" height="2" fill="#1d5a3c"/>
<rect x="175" y="280" width="1" height="51" fill="#a02424"/>
<rect x="173" y="286" width="5" height="37" fill="#5a0808"/>
<rect x="174" y="287" width="3" height="35" fill="#ee0a0a"/>
<rect x="181" y="269" width="1" height="67" fill="#101c86"/>
<rect x="179" y="272" width="5" height="50" fill="#0a0f6e"/>
<rect x="180" y="273" width="3" height="48" fill="#0a1ee6"/>
<rect x="187" y="241" width="1" height="32" fill="#101c86"/>
<rect x="185" y="255" width="5" height="18" fill="#0a0f6e"/>
<rect x="186" y="256" width="3" height="16" fill="#0a1ee6"/>
<rect x="193" y="207" width="1" height="70" fill="#101c86"/>
<rect x="191" y="229" width="5" height="27" fill="#0a0f6e"/>
<rect x="192" y="230" width="3" height="25" fill="#0a1ee6"/>
<rect x="199" y="216" width="1" height="39" fill="#a02424"/>
<rect x="197" y="230" width="5" height="15" fill="#5a0808"/>
<rect x="198" y="231" width="3" height="13" fill="#ee0a0a"/>
<rect x="205" y="237" width="1" height="45" fill="#a02424"/>
<rect x="203" y="244" width="5" height="14" fill="#5a0808"/>
<rect x="204" y="245" width="3" height="12" fill="#ee0a0a"/>
<rect x="211" y="242" width="1" height="32" fill="#a02424"/>
<rect x="209" y="257" width="5" height="9" fill="#5a0808"/>
<rect x="210" y="258" width="3" height="7" fill="#ee0a0a"/>
<rect x="217" y="220" width="1" height="51" fill="#101c86"/>
<rect x="215" y="227" width="5" height="39" fill="#0a0f6e"/>
<rect x="216" y="228" width="3" height="37" fill="#0a1ee6"/>
<rect x="223" y="214" width="1" height="27" fill="#101c86"/>
<rect x="221" y="221" width="5" height="7" fill="#0a0f6e"/>
<rect x="222" y="222" width="3" height="5" fill="#0a1ee6"/>
<rect x="229" y="167" width="1" height="56" fill="#101c86"/>
<rect x="227" y="171" width="5" height="51" fill="#0a0f6e"/>
<rect x="228" y="172" width="3" height="49" fill="#0a1ee6"/>
<rect x="235" y="150" width="1" height="38" fill="#101c86"/>
<rect x="233" y="153" width="5" height="19" fill="#0a0f6e"/>
<rect x="234" y="154" width="3" height="17" fill="#0a1ee6"/>
<rect x="241" y="136" width="1" height="37" fill="#101c86"/>
<rect x="239" y="141" width="5" height="13" fill="#0a0f6e"/>
<rect x="240" y="142" width="3" height="11" fill="#0a1ee6"/>
<rect x="247" y="124" width="1" height="37" fill="#a02424"/>
<rect x="245" y="141" width="5" height="14" fill="#5a0808"/>
<rect x="246" y="142" width="3" height="12" fill="#ee0a0a"/>
<rect x="253" y="108" width="1" height="47" fill="#101c86"/>
<rect x="251" y="110" width="5" height="45" fill="#0a0f6e"/>
<rect x="252" y="111" width="3" height="43" fill="#0a1ee6"/>
<rect x="259" y="80" width="1" height="36" fill="#101c86"/>
<rect x="257" y="107" width="5" height="3" fill="#0a0f6e"/>
<rect x="258" y="108" width="3" height="1" fill="#0a1ee6"/>
<rect x="265" y="88" width="1" height="69" fill="#a02424"/>
<rect x="263" y="106" width="5" height="33" fill="#5a0808"/>
<rect x="264" y="107" width="3" height="31" fill="#ee0a0a"/>
<rect x="271" y="133" width="1" height="45" fill="#a02424"/>
<rect x="269" y="139" width="5" height="16" fill="#5a0808"/>
<rect x="270" y="140" width="3" height="14" fill="#ee0a0a"/>
<rect x="277" y="134" width="1" height="33" fill="#a02424"/>
<rect x="275" y="153" width="5" height="11" fill="#5a0808"/>
<rect x="276" y="154" width="3" height="9" fill="#ee0a0a"/>
<rect x="283" y="101" width="1" height="65" fill="#101c86"/>
<rect x="281" y="122" width="5" height="42" fill="#0a0f6e"/>
<rect x="282" y="123" width="3" height="40" fill="#0a1ee6"/>
<rect x="289" y="92" width="1" height="49" fill="#101c86"/>
<rect x="287" y="113" width="5" height="9" fill="#0a0f6e"/>
<rect x="288" y="114" width="3" height="7" fill="#0a1ee6"/>
<rect x="295" y="97" width="1" height="26" fill="#101c86"/>
<rect x="293" y="105" width="5" height="9" fill="#0a0f6e"/>
<rect x="294" y="106" width="3" height="7" fill="#0a1ee6"/>
<rect x="301" y="100" width="1" height="49" fill="#a02424"/>
<rect x="299" y="105" width="5" height="25" fill="#5a0808"/>
<rect x="300" y="106" width="3" height="23" fill="#ee0a0a"/>
<rect x="307" y="118" width="1" height="23" fill="#a02424"/>
<rect x="305" y="129" width="5" height="5" fill="#5a0808"/>
<rect x="306" y="130" width="3" height="3" fill="#ee0a0a"/>
<rect x="313" y="132" width="1" height="51" fill="#a02424"/>
<rect x="311" y="134" width="5" height="26" fill="#5a0808"/>
<rect x="312" y="135" width="3" height="24" fill="#ee0a0a"/>
<rect x="319" y="133" width="1" height="46" fill="#101c86"/>
<rect x="317" y="141" width="5" height="19" fill="#0a0f6e"/>
<rect x="318" y="142" width="3" height="17" fill="#0a1ee6"/>
<rect x="325" y="139" width="1" height="78" fill="#a02424"/>
<rect x="323" y="141" width="5" height="69" fill="#5a0808"/>
<rect x="324" y="142" width="3" height="67" fill="#ee0a0a"/>
<rect x="331" y="172" width="1" height="44" fill="#101c86"/>
<rect x="329" y="177" width="5" height="32" fill="#0a0f6e"/>
<rect x="330" y="178" width="3" height="30" fill="#0a1ee6"/>
<rect x="337" y="149" width="1" height="34" fill="#101c86"/>
<rect x="335" y="161" width="5" height="17" fill="#0a0f6e"/>
<rect x="336" y="162" width="3" height="15" fill="#0a1ee6"/>
<rect x="343" y="137" width="1" height="25" fill="#101c86"/>
<rect x="341" y="148" width="5" height="14" fill="#0a0f6e"/>
<rect x="342" y="149" width="3" height="12" fill="#0a1ee6"/>
<rect x="349" y="114" width="1" height="45" fill="#101c86"/>
<rect x="347" y="116" width="5" height="32" fill="#0a0f6e"/>
<rect x="348" y="117" width="3" height="30" fill="#0a1ee6"/>
<rect x="355" y="94" width="1" height="33" fill="#101c86"/>
<rect x="353" y="102" width="5" height="15" fill="#0a0f6e"/>
<rect x="354" y="103" width="3" height="13" fill="#0a1ee6"/>
<rect x="361" y="85" width="1" height="36" fill="#101c86"/>
<rect x="359" y="100" width="5" height="3" fill="#0a0f6e"/>
<rect x="360" y="101" width="3" height="1" fill="#0a1ee6"/>
<rect x="367" y="88" width="1" height="15" fill="#101c86"/>
<rect x="365" y="95" width="5" height="6" fill="#0a0f6e"/>
<rect x="366" y="96" width="3" height="4" fill="#0a1ee6"/>
<rect x="373" y="80" width="1" height="26" fill="#101c86"/>
<rect x="371" y="88" width="5" height="8" fill="#0a0f6e"/>
<rect x="372" y="89" width="3" height="6" fill="#0a1ee6"/>
<rect x="379" y="86" width="1" height="14" fill="#a02424"/>
<rect x="377" y="88" width="5" height="5" fill="#5a0808"/>
<rect x="378" y="89" width="3" height="3" fill="#ee0a0a"/>
<rect x="385" y="92" width="1" height="32" fill="#a02424"/>
<rect x="383" y="92" width="5" height="15" fill="#5a0808"/>
<rect x="384" y="93" width="3" height="13" fill="#ee0a0a"/>
<rect x="391" y="97" width="1" height="25" fill="#101c86"/>
<rect x="389" y="97" width="5" height="9" fill="#0a0f6e"/>
<rect x="390" y="98" width="3" height="7" fill="#0a1ee6"/>
<rect x="397" y="95" width="1" height="24" fill="#a02424"/>
<rect x="395" y="97" width="5" height="18" fill="#5a0808"/>
<rect x="396" y="98" width="3" height="16" fill="#ee0a0a"/>
<rect x="403" y="106" width="1" height="34" fill="#a02424"/>
<rect x="401" y="114" width="5" height="16" fill="#5a0808"/>
<rect x="402" y="115" width="3" height="14" fill="#ee0a0a"/>
<rect x="409" y="119" width="1" height="24" fill="#101c86"/>
<rect x="407" y="121" width="5" height="9" fill="#0a0f6e"/>
<rect x="408" y="122" width="3" height="7" fill="#0a1ee6"/>
<rect x="415" y="103" width="1" height="20" fill="#101c86"/>
<rect x="413" y="109" width="5" height="13" fill="#0a0f6e"/>
<rect x="414" y="110" width="3" height="11" fill="#0a1ee6"/>
<rect x="421" y="76" width="1" height="38" fill="#101c86"/>
<rect x="419" y="84" width="5" height="26" fill="#0a0f6e"/>
<rect x="420" y="85" width="3" height="24" fill="#0a1ee6"/>
<rect x="427" y="82" width="1" height="26" fill="#a02424"/>
<rect x="425" y="84" width="5" height="10" fill="#5a0808"/>
<rect x="426" y="85" width="3" height="8" fill="#ee0a0a"/>
<rect x="433" y="74" width="1" height="22" fill="#101c86"/>
<rect x="431" y="90" width="5" height="4" fill="#0a0f6e"/>
<rect x="432" y="91" width="3" height="2" fill="#0a1ee6"/>
<rect x="439" y="45" width="1" height="47" fill="#101c86"/>
<rect x="437" y="51" width="5" height="40" fill="#0a0f6e"/>
<rect x="438" y="52" width="3" height="38" fill="#0a1ee6"/>
<rect x="445" y="30" width="1" height="26" fill="#a02424"/>
<rect x="443" y="51" width="5" height="2" fill="#5a0808"/>
<rect x="451" y="43" width="1" height="28" fill="#a02424"/>
<rect x="449" y="52" width="5" height="7" fill="#5a0808"/>
<rect x="450" y="53" width="3" height="5" fill="#ee0a0a"/>
<rect x="457" y="46" width="1" height="42" fill="#a02424"/>
<rect x="455" y="58" width="5" height="13" fill="#5a0808"/>
<rect x="456" y="59" width="3" height="11" fill="#ee0a0a"/>
<rect x="463" y="62" width="1" height="23" fill="#a02424"/>
<rect x="461" y="71" width="5" height="11" fill="#5a0808"/>
<rect x="462" y="72" width="3" height="9" fill="#ee0a0a"/>
<rect x="469" y="79" width="1" height="100" fill="#a02424"/>
<rect x="467" y="83" width="5" height="66" fill="#5a0808"/>
<rect x="468" y="84" width="3" height="64" fill="#ee0a0a"/>
<rect x="475" y="120" width="1" height="41" fill="#a02424"/>
<rect x="473" y="149" width="5" height="10" fill="#5a0808"/>
<rect x="474" y="150" width="3" height="8" fill="#ee0a0a"/>
<rect x="481" y="143" width="1" height="40" fill="#a02424"/>
<rect x="479" y="158" width="5" height="1" fill="#5a0808"/>
<rect x="487" y="139" width="1" height="34" fill="#101c86"/>
<rect x="485" y="149" width="5" height="10" fill="#0a0f6e"/>
<rect x="486" y="150" width="3" height="8" fill="#0a1ee6"/>
<rect x="493" y="149" width="1" height="47" fill="#a02424"/>
<rect x="491" y="149" width="5" height="21" fill="#5a0808"/>
<rect x="492" y="150" width="3" height="19" fill="#ee0a0a"/>
<rect x="499" y="162" width="1" height="107" fill="#a02424"/>
<rect x="497" y="169" width="5" height="69" fill="#5a0808"/>
<rect x="498" y="170" width="3" height="67" fill="#ee0a0a"/>
<rect x="505" y="215" width="1" height="32" fill="#a02424"/>
<rect x="503" y="237" width="5" height="3" fill="#5a0808"/>
<rect x="504" y="238" width="3" height="1" fill="#ee0a0a"/>
<rect x="511" y="221" width="1" height="24" fill="#101c86"/>
<rect x="509" y="228" width="5" height="12" fill="#0a0f6e"/>
<rect x="510" y="229" width="3" height="10" fill="#0a1ee6"/>
<rect x="517" y="178" width="1" height="91" fill="#101c86"/>
<rect x="515" y="185" width="5" height="45" fill="#0a0f6e"/>
<rect x="516" y="186" width="3" height="43" fill="#0a1ee6"/>
<rect x="523" y="161" width="1" height="34" fill="#101c86"/>
<rect x="521" y="165" width="5" height="22" fill="#0a0f6e"/>
<rect x="522" y="166" width="3" height="20" fill="#0a1ee6"/>
<rect x="529" y="151" width="1" height="26" fill="#a02424"/>
<rect x="527" y="165" width="5" height="2" fill="#5a0808"/>
<rect x="535" y="151" width="1" height="30" fill="#a02424"/>
<rect x="533" y="167" width="5" height="11" fill="#5a0808"/>
<rect x="534" y="168" width="3" height="9" fill="#ee0a0a"/>
<rect x="541" y="144" width="1" height="50" fill="#101c86"/>
<rect x="539" y="145" width="5" height="33" fill="#0a0f6e"/>
<rect x="540" y="146" width="3" height="31" fill="#0a1ee6"/>
<rect x="547" y="110" width="1" height="36" fill="#101c86"/>
<rect x="545" y="124" width="5" height="22" fill="#0a0f6e"/>
<rect x="546" y="125" width="3" height="20" fill="#0a1ee6"/>
<rect x="553" y="117" width="1" height="24" fill="#a02424"/>
<rect x="551" y="124" width="5" height="7" fill="#5a0808"/>
<rect x="552" y="125" width="3" height="5" fill="#ee0a0a"/>
<rect x="559" y="105" width="1" height="34" fill="#101c86"/>
<rect x="557" y="122" width="5" height="10" fill="#0a0f6e"/>
<rect x="558" y="123" width="3" height="8" fill="#0a1ee6"/>
<rect x="565" y="118" width="1" height="41" fill="#a02424"/>
<rect x="563" y="122" width="5" height="35" fill="#5a0808"/>
<rect x="564" y="123" width="3" height="33" fill="#ee0a0a"/>
<rect x="571" y="133" width="1" height="49" fill="#101c86"/>
<rect x="569" y="133" width="5" height="25" fill="#0a0f6e"/>
<rect x="570" y="134" width="3" height="23" fill="#0a1ee6"/>
<rect x="577" y="117" width="1" height="23" fill="#101c86"/>
<rect x="575" y="132" width="5" height="2" fill="#1d5a3c"/>
<rect x="583" y="129" width="1" height="27" fill="#a02424"/>
<rect x="581" y="132" width="5" height="4" fill="#5a0808"/>
<rect x="582" y="133" width="3" height="2" fill="#ee0a0a"/>
<rect x="589" y="106" width="1" height="32" fill="#101c86"/>
<rect x="587" y="112" width="5" height="24" fill="#0a0f6e"/>
<rect x="588" y="113" width="3" height="22" fill="#0a1ee6"/>
<rect x="595" y="106" width="1" height="34" fill="#a02424"/>
<rect x="593" y="112" width="5" height="19" fill="#5a0808"/>
<rect x="594" y="113" width="3" height="17" fill="#ee0a0a"/>
<rect x="601" y="102" width="1" height="31" fill="#a02424"/>
<rect x="599" y="130" width="5" height="3" fill="#5a0808"/>
<rect x="600" y="131" width="3" height="1" fill="#ee0a0a"/>
<rect x="607" y="114" width="1" height="50" fill="#a02424"/>
<rect x="605" y="132" width="5" height="21" fill="#5a0808"/>
<rect x="606" y="133" width="3" height="19" fill="#ee0a0a"/>
<rect x="613" y="122" width="1" height="31" fill="#101c86"/>
<rect x="611" y="141" width="5" height="12" fill="#0a0f6e"/>
<rect x="612" y="142" width="3" height="10" fill="#0a1ee6"/>
<rect x="619" y="141" width="1" height="116" fill="#a02424"/>
<rect x="617" y="141" width="5" height="79" fill="#5a0808"/>
<rect x="618" y="142" width="3" height="77" fill="#ee0a0a"/>
<rect x="625" y="210" width="1" height="50" fill="#101c86"/>
<rect x="623" y="211" width="5" height="9" fill="#0a0f6e"/>
<rect x="624" y="212" width="3" height="7" fill="#0a1ee6"/>
<rect x="631" y="205" width="1" height="48" fill="#a02424"/>
<rect x="629" y="211" width="5" height="23" fill="#5a0808"/>
<rect x="630" y="212" width="3" height="21" fill="#ee0a0a"/>
<rect x="637" y="229" width="1" height="40" fill="#a02424"/>
<rect x="635" y="233" width="5" height="16" fill="#5a0808"/>
<rect x="636" y="234" width="3" height="14" fill="#ee0a0a"/>
<rect x="643" y="248" width="1" height="81" fill="#a02424"/>
<rect x="641" y="248" width="5" height="53" fill="#5a0808"/>
<rect x="642" y="249" width="3" height="51" fill="#ee0a0a"/>
<rect x="649" y="282" width="1" height="48" fill="#a02424"/>
<rect x="647" y="299" width="5" height="18" fill="#5a0808"/>
<rect x="648" y="300" width="3" height="16" fill="#ee0a0a"/>
<rect x="655" y="308" width="1" height="157" fill="#a02424"/>
<rect x="653" y="317" width="5" height="99" fill="#5a0808"/>
<rect x="654" y="318" width="3" height="97" fill="#ee0a0a"/>
<line x1="4" y1="416.5" x2="689" y2="416.5" stroke="#a51e1e" stroke-width="1" stroke-dasharray="2 1"/>
<rect x="689" y="5" width="1" height="506" fill="#4d4d4d"/>
<rect x="4" y="510" width="686" height="1" fill="#4d4d4d"/>
<rect x="690" y="36" width="3" height="1" fill="#4d4d4d"/>
<rect x="690" y="66" width="3" height="1" fill="#4d4d4d"/>
<rect x="690" y="97" width="3" height="1" fill="#4d4d4d"/>
<rect x="690" y="128" width="3" height="1" fill="#4d4d4d"/>
<rect x="690" y="159" width="3" height="1" fill="#4d4d4d"/>
<rect x="690" y="189" width="3" height="1" fill="#4d4d4d"/>
<rect x="690" y="220" width="3" height="1" fill="#4d4d4d"/>
<rect x="690" y="251" width="3" height="1" fill="#4d4d4d"/>
<rect x="690" y="282" width="3" height="1" fill="#4d4d4d"/>
<rect x="690" y="312" width="3" height="1" fill="#4d4d4d"/>
<rect x="690" y="343" width="3" height="1" fill="#4d4d4d"/>
<rect x="690" y="374" width="3" height="1" fill="#4d4d4d"/>
<rect x="690" y="405" width="3" height="1" fill="#4d4d4d"/>
<rect x="690" y="435" width="3" height="1" fill="#4d4d4d"/>
<rect x="690" y="466" width="3" height="1" fill="#4d4d4d"/>
<rect x="690" y="497" width="3" height="1" fill="#4d4d4d"/>
<rect x="20" y="511" width="1" height="3" fill="#4d4d4d"/>
<rect x="98" y="511" width="1" height="3" fill="#4d4d4d"/>
<rect x="188" y="511" width="1" height="3" fill="#4d4d4d"/>
<rect x="266" y="511" width="1" height="3" fill="#4d4d4d"/>
<rect x="374" y="511" width="1" height="3" fill="#4d4d4d"/>
<rect x="452" y="511" width="1" height="3" fill="#4d4d4d"/>
<rect x="554" y="511" width="1" height="3" fill="#4d4d4d"/>
<rect x="632" y="511" width="1" height="3" fill="#4d4d4d"/>
<rect x="689" y="409" width="54" height="16" fill="#f00"/>
<rect x="690" y="416" width="4" height="1" fill="#fff"/>
</svg>
<div class="pl" style="top:30px">7000000</div>
<div class="pl" style="top:60px">6750000</div>
<div class="pl" style="top:91px">6500000</div>
<div class="pl" style="top:122px">6250000</div>
<div class="pl" style="top:153px">6000000</div>
<div class="pl" style="top:183px">5750000</div>
<div class="pl" style="top:214px">5500000</div>
<div class="pl" style="top:245px">5250000</div>
<div class="pl" style="top:276px">5000000</div>
<div class="pl" style="top:306px">4750000</div>
<div class="pl" style="top:337px">4500000</div>
<div class="pl" style="top:368px">4250000</div>
<div class="pl" style="top:399px;clip-path:inset(0 0 6px 0)">4000000</div>
<div class="pl" style="top:429px">3750000</div>
<div class="pl" style="top:460px">3500000</div>
<div class="pl" style="top:491px">3250000</div>
<div id="lp">3906555</div>
<div class="dl" style="left:-10px">2月</div>
<div class="dl" style="left:68px">14</div>
<div class="dl" style="left:158px">3月</div>
<div class="dl" style="left:236px">14</div>
<div class="dl" style="left:344px">4月</div>
<div class="dl" style="left:422px">14</div>
<div class="dl" style="left:524px">5月</div>
<div class="dl" style="left:602px">14</div>

<!-- legend row 1 -->
<svg class="t" style="left:9px;top:17px" width="13" height="13" viewBox="0 0 13 13"><rect x="0.5" y="0.5" width="12" height="12" fill="none" stroke="#6b6b6b"/><rect x="2" y="6" width="9" height="1" fill="#6b6b6b"/></svg>
<div class="t ti" style="left:28.4px;transform:scaleX(0.85)">B</div><div class="t ti" style="left:37.0px;transform:scaleX(0.8)">T</div><div class="t ti" style="left:44.5px;transform:scaleX(0.85)">C</div><div class="t ti" style="left:57.5px;transform:scaleX(1.35);-webkit-text-stroke:0.15px #4d4d4d">/</div><div class="t ti" style="left:67.1px;transform:scaleX(0.8)">J</div><div class="t ti" style="left:73.2px;transform:scaleX(0.8)">P</div><div class="t ti" style="left:83.5px;transform:scaleX(0.97)">Y</div>
<div class="t" style="left:99px;top:14.6px;font-size:17px;color:#4d4d4d;line-height:20px">取引, 日</div>
<div class="t" style="left:166px;top:21px"><svg width="8" height="5" viewBox="0 0 8 5"><path d="M0 0 L8 0 L4 4.5 Z" fill="#c4c4c4"/></svg></div>
<div class="ic" style="left:183px;top:17px"><svg width="14" height="13" viewBox="0 0 14 13"><rect width="14" height="13" fill="rgba(0,0,0,0.165)"/><ellipse cx="7" cy="6.6" rx="4.9" ry="3.9" fill="rgba(255,255,255,0.95)"/><circle cx="7" cy="6.6" r="1.7" fill="#d4d4d4"/></svg></div>
<div class="ic" style="left:200px;top:17px"><svg width="14" height="13" viewBox="0 0 14 13"><rect width="14" height="13" fill="rgba(0,0,0,0.165)"/><g transform="translate(7 6.6)" fill="rgba(255,255,255,0.95)"><circle r="3.7"/><rect x="-1.3" y="-5.3" width="2.6" height="3" transform="rotate(0)"/><rect x="-1.3" y="-5.3" width="2.6" height="3" transform="rotate(45)"/><rect x="-1.3" y="-5.3" width="2.6" height="3" transform="rotate(90)"/><rect x="-1.3" y="-5.3" width="2.6" height="3" transform="rotate(135)"/><rect x="-1.3" y="-5.3" width="2.6" height="3" transform="rotate(180)"/><rect x="-1.3" y="-5.3" width="2.6" height="3" transform="rotate(225)"/><rect x="-1.3" y="-5.3" width="2.6" height="3" transform="rotate(270)"/><rect x="-1.3" y="-5.3" width="2.6" height="3" transform="rotate(315)"/></g><circle cx="7" cy="6.6" r="1.6" fill="#d4d4d4"/></svg></div>
<div class="t lab" style="left:222px">始値</div><div class="t val" style="left:252px">4715000</div>
<div class="t lab" style="left:318px">高値</div><div class="t val" style="left:348px">4783240</div>
<div class="t lab" style="left:413px">安値</div><div class="t val" style="left:443.5px">3512300</div>
<div class="t lab" style="left:508px">終値</div><div class="t val" style="left:538.5px">3906555</div>

<!-- legend row 2 -->
<div class="t" style="left:9px;top:37px;font-size:12px;line-height:16px;color:#555">Volume (20)</div>
<div class="t" style="left:78px;top:43px"><svg width="8" height="5" viewBox="0 0 8 5"><path d="M0 0 L8 0 L4 4.5 Z" fill="#c4c4c4"/></svg></div>
<div class="ic" style="left:95px;top:38px"><svg width="14" height="13" viewBox="0 0 14 13"><rect width="14" height="13" fill="rgba(0,0,0,0.165)"/><ellipse cx="7" cy="6.6" rx="4.9" ry="3.9" fill="rgba(255,255,255,0.95)"/><circle cx="7" cy="6.6" r="1.7" fill="#d4d4d4"/></svg></div>
<div class="ic" style="left:112px;top:38px"><svg width="14" height="13" viewBox="0 0 14 13"><rect width="14" height="13" fill="rgba(0,0,0,0.165)"/><g transform="translate(7 6.6)" fill="rgba(255,255,255,0.95)"><circle r="3.7"/><rect x="-1.3" y="-5.3" width="2.6" height="3" transform="rotate(0)"/><rect x="-1.3" y="-5.3" width="2.6" height="3" transform="rotate(45)"/><rect x="-1.3" y="-5.3" width="2.6" height="3" transform="rotate(90)"/><rect x="-1.3" y="-5.3" width="2.6" height="3" transform="rotate(135)"/><rect x="-1.3" y="-5.3" width="2.6" height="3" transform="rotate(180)"/><rect x="-1.3" y="-5.3" width="2.6" height="3" transform="rotate(225)"/><rect x="-1.3" y="-5.3" width="2.6" height="3" transform="rotate(270)"/><rect x="-1.3" y="-5.3" width="2.6" height="3" transform="rotate(315)"/></g><circle cx="7" cy="6.6" r="1.6" fill="#d4d4d4"/></svg></div>
<div class="ic" style="left:129px;top:38px"><svg width="14" height="13" viewBox="0 0 14 13"><rect width="14" height="13" fill="rgba(0,0,0,0.165)"/><path d="M2.5 2 L11.5 11 M11.5 2 L2.5 11" stroke="#fff" stroke-width="1.5"/></svg></div>
<div class="t" style="left:152px;top:37px;font-size:12px;line-height:16px;color:#d03030;transform:scaleX(0.9);transform-origin:0 0;-webkit-text-stroke:0.2px #d03030">474</div>
<div class="t" style="left:181px;top:37px;font-size:12px;line-height:16px;color:#555">該当なし</div>

<!-- legend row 3 -->
<div class="t" style="left:9px;top:57px;font-size:12px;line-height:16px;color:#555">Average</div>
<div class="t" style="left:56px;top:63px"><svg width="8" height="5" viewBox="0 0 8 5"><path d="M0 0 L8 0 L4 4.5 Z" fill="#c4c4c4"/></svg></div>
<div class="ic" style="left:73px;top:58px"><svg width="14" height="13" viewBox="0 0 14 13"><rect width="14" height="13" fill="rgba(0,0,0,0.165)"/><ellipse cx="7" cy="6.6" rx="4.9" ry="3.9" fill="rgba(255,255,255,0.95)"/><circle cx="7" cy="6.6" r="1.7" fill="#d4d4d4"/></svg></div>
<div class="ic" style="left:90px;top:58px"><svg width="14" height="13" viewBox="0 0 14 13"><rect width="14" height="13" fill="rgba(0,0,0,0.165)"/><g transform="translate(7 6.6)" fill="rgba(255,255,255,0.95)"><circle r="3.7"/><rect x="-1.3" y="-5.3" width="2.6" height="3" transform="rotate(0)"/><rect x="-1.3" y="-5.3" width="2.6" height="3" transform="rotate(45)"/><rect x="-1.3" y="-5.3" width="2.6" height="3" transform="rotate(90)"/><rect x="-1.3" y="-5.3" width="2.6" height="3" transform="rotate(135)"/><rect x="-1.3" y="-5.3" width="2.6" height="3" transform="rotate(180)"/><rect x="-1.3" y="-5.3" width="2.6" height="3" transform="rotate(225)"/><rect x="-1.3" y="-5.3" width="2.6" height="3" transform="rotate(270)"/><rect x="-1.3" y="-5.3" width="2.6" height="3" transform="rotate(315)"/></g><circle cx="7" cy="6.6" r="1.6" fill="#d4d4d4"/></svg></div>
<div class="ic" style="left:107px;top:58px"><svg width="14" height="13" viewBox="0 0 14 13"><rect width="14" height="13" fill="rgba(0,0,0,0.165)"/><path d="M2.5 2 L11.5 11 M11.5 2 L2.5 11" stroke="#fff" stroke-width="1.5"/></svg></div>
<div class="t" style="left:130px;top:58px;font-size:12px;line-height:16px;color:#2a8a2a;transform:scaleX(0.97);transform-origin:0 0;-webkit-text-stroke:0.25px #2a8a2a">4311911.00730000</div>

<div id="toolbar">
<div class="tb" style="left:14px">5年</div>
<div class="sep" style="left:43px"></div>
<div class="tb" style="left:58px">1年</div>
<div class="sep" style="left:87px"></div>
<div class="tb" style="left:101px">3ヶ月</div>
<div class="sep" style="left:141px"></div>
<div class="tb" style="left:156px">1ヶ月</div>
<div class="sep" style="left:196px"></div>
<div class="tb" style="left:210px">5日</div>
<div class="sep" style="left:239px"></div>
<div class="tb" style="left:254px">1日</div>
<div class="sep" style="left:283px"></div>
<div class="tb" style="left:297px">日付指定</div>
<div class="tb" style="left:424px">22:35:43</div><div class="tb" style="left:475px;font-weight:normal;letter-spacing:0.2px">(UTC+9)</div>
<div class="sep" style="left:525px"></div>
<div class="tb" style="left:539px">%</div>
<div class="sep" style="left:559px"></div>
<div class="tb" style="left:573px">ログスケール</div>
<div class="sep" style="left:651px"></div>
<div class="tb" style="left:665px;color:#5aaade">自動</div>
<div class="sep" style="left:699px"></div>
<div class="t" style="left:713px;top:4px"><svg width="14" height="14" viewBox="-7 -7 14 14"><g fill="#8c8f93"><circle r="3.4" fill="none" stroke="#8c8f93" stroke-width="1.9"/><rect x="-1.05" y="-6" width="2.1" height="2.8" transform="rotate(0)"/><rect x="-1.05" y="-6" width="2.1" height="2.8" transform="rotate(45)"/><rect x="-1.05" y="-6" width="2.1" height="2.8" transform="rotate(90)"/><rect x="-1.05" y="-6" width="2.1" height="2.8" transform="rotate(135)"/><rect x="-1.05" y="-6" width="2.1" height="2.8" transform="rotate(180)"/><rect x="-1.05" y="-6" width="2.1" height="2.8" transform="rotate(225)"/><rect x="-1.05" y="-6" width="2.1" height="2.8" transform="rotate(270)"/><rect x="-1.05" y="-6" width="2.1" height="2.8" transform="rotate(315)"/></g></svg></div>
</div>
</body></html>
